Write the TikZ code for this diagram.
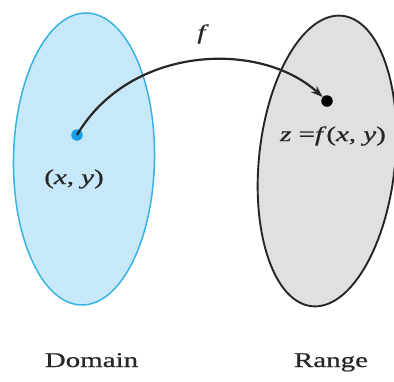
\documentclass[tikz,border=0pt]{standalone}
\usepackage{fontspec}
\setmainfont{Liberation Serif}
\newfontfamily\labfont{Liberation Serif}[FakeBold=0.6]
\usetikzlibrary{shapes.geometric,arrows.meta}
\definecolor{domfill}{HTML}{C6E8F8}
\definecolor{domline}{HTML}{38B2E0}
\definecolor{ranfill}{HTML}{E0E0E0}
\definecolor{dotblue}{HTML}{18A0E2}
\definecolor{txt}{HTML}{262626}
\tikzset{
  region/.style={ellipse, inner sep=0pt},
  pt/.style={circle, inner sep=0pt, minimum size=11.5pt},
  lab/.style={text=txt, font=\labfont\fontsize{21}{23}\selectfont, inner sep=0pt, xscale=1.38, transform shape},
}
\begin{document}
\begin{tikzpicture}[x=1pt, y=-1pt]
\useasboundingbox (0,0) rectangle (394,381);
\node[region, line width=1.5pt, draw=domline, fill=domfill, minimum width=141pt, minimum height=292pt, rotate=-1] (dom) at (84,159) {};
\node[region, line width=1.9pt, draw=black!85, fill=ranfill, minimum width=136pt, minimum height=292pt, rotate=-6] (ran) at (327,161) {};
\node[pt, fill=dotblue] (p) at (77,135) {};
\node[pt, fill=black] (q) at (327,101) {};
\draw[line width=2.2pt, black!85, -{Stealth[length=12pt,width=8.5pt]}] (p.center) .. controls (130,45) and (260,40) .. (q);
\node[lab] (flab) at (203,34) {\textit{f}};
\node[lab] (xy) at (74,179) {(\textit{x}, \textit{y})};
\node[lab] (zf) at (333,136) {\textit{z} =\textit{f}(\textit{x}, \textit{y})};
\node[lab, anchor=base] (domain) at (91.5,367) {Domain};
\node[lab, anchor=base] (range) at (331,367) {Range};
\end{tikzpicture}
\end{document}
